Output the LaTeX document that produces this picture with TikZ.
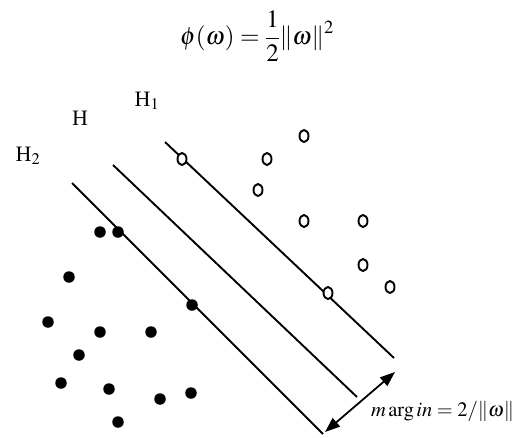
\documentclass[tikz,border=0pt]{standalone}
\usepackage{mathptmx}
\usepackage{fontspec}
\setmainfont{Liberation Serif}
\usetikzlibrary{arrows.meta,shapes.geometric}
\tikzset{
  plane/.style={line width=1.9pt},
  posdot/.style={draw, ellipse, line width=1.9pt, minimum width=9pt, minimum height=12pt, inner sep=0pt},
  negdot/.style={fill, circle, minimum size=11.5pt, inner sep=0pt},
  lbl/.style={font=\fontsize{22}{24}\selectfont, inner sep=0pt},
  marginarrow/.style={line width=1.8pt, {Triangle[length=15pt,width=11pt]}-{Triangle[length=15pt,width=11pt]}}
}
\begin{document}
\begin{tikzpicture}[x=1pt,y=-1pt]
\useasboundingbox (0,0) rectangle (519,437);
% formula
\node[inner sep=0pt, font=\fontsize{25}{28}\selectfont] (formula) at (257,36) {$\displaystyle\phi(\omega)=\frac{1}{2}\|\omega\|^{2}$};
% labels
\node[lbl] (lH2) at (28,156) {H$_2$};
\node[lbl] (lH) at (80,118) {H};
\node[lbl] (lH1) at (147,101) {H$_1$};
% hyperplanes
\coordinate (h1s) at (165,142);
\coordinate (h1e) at (394,358);
\coordinate (hs) at (113,165);
\coordinate (he) at (357,397);
\coordinate (h2s) at (72,183);
\coordinate (h2e) at (323,434);
\draw[plane] (h1s) -- (h1e);
\draw[plane] (hs) -- (he);
\draw[plane] (h2s) -- (h2e);
% margin arrow
\coordinate (a1) at (325,432);
\coordinate (a2) at (395,372);
\draw[marginarrow] (a1) -- (a2);
\node[inner sep=0pt, anchor=west, font=\fontsize{20.5}{22}\selectfont] (mtext) at (371,411) {$m\arg in=2/\|\omega\|$};
% positive (open) points
\node[posdot] (p1) at (304,136) {};
\node[posdot] (p2) at (267,159) {};
\node[posdot,fill=white] (p3) at (182,159) {};
\node[posdot] (p4) at (258,190) {};
\node[posdot] (p5) at (304,221) {};
\node[posdot] (p6) at (363,221) {};
\node[posdot] (p7) at (363,265) {};
\node[posdot] (p8) at (390,287) {};
\node[posdot,fill=white] (p9) at (328,293) {};
% negative (filled) points
\node[negdot] (n1) at (100,232) {};
\node[negdot] (n2) at (118,232) {};
\node[negdot] (n3) at (69,277) {};
\node[negdot] (n4) at (48,322) {};
\node[negdot] (n5) at (100,332) {};
\node[negdot] (n6) at (151,332) {};
\node[negdot] (n7) at (79,355) {};
\node[negdot] (n8) at (192,305) {};
\node[negdot] (n9) at (61,383) {};
\node[negdot] (n10) at (109,389) {};
\node[negdot] (n11) at (160,399) {};
\node[negdot] (n12) at (191,393) {};
\node[negdot] (n13) at (118,422) {};
\end{tikzpicture}
\end{document}
